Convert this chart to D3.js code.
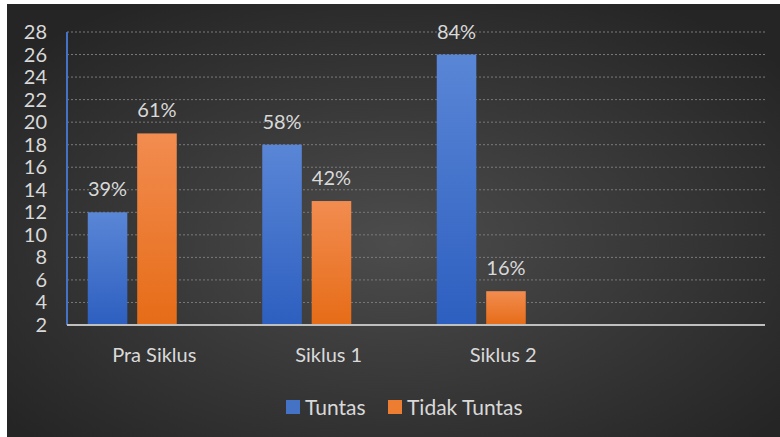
<!DOCTYPE html>
<html>
<head>
<meta charset="utf-8">
<script src="https://cdn.jsdelivr.net/npm/d3@7"></script>
<style>
  html, body { margin: 0; padding: 0; background: #fff; }
  svg text { font-family: Lato, "Open Sans", sans-serif; fill: #d9d9d9; }
</style>
</head>
<body>
<div id="chart"></div>
<script>
// data (31 students)
var categories = ["Pra Siklus", "Siklus 1", "Siklus 2", ""];
var seriesNames = ["Tuntas", "Tidak Tuntas"];
var tuntas = [12, 18, 26];
var tidakTuntas = [19, 13, 5];
var tuntasPct = ["39%", "58%", "84%"];
var tidakPct = ["61%", "42%", "16%"];
var yTicks = [2, 4, 6, 8, 10, 12, 14, 16, 18, 20, 22, 24, 26, 28];

var W = 780, H = 437;
var plot = {left: 67, right: 765, top: 32, bottom: 325};

var svg = d3.select("#chart").append("svg")
    .attr("width", W).attr("height", H);

var defs = svg.append("defs");
var bg = defs.append("radialGradient").attr("id", "bg")
    .attr("cx", "50%").attr("cy", "55%").attr("r", "65%");
bg.append("stop").attr("offset", "0%").attr("stop-color", "#4c4c4c");
bg.append("stop").attr("offset", "100%").attr("stop-color", "#252525");

var gBlue = defs.append("linearGradient").attr("id", "gBlue")
    .attr("x1", 0).attr("y1", 0).attr("x2", 0).attr("y2", 1);
gBlue.append("stop").attr("offset", "0%").attr("stop-color", "#5a86d6");
gBlue.append("stop").attr("offset", "100%").attr("stop-color", "#2d5fc0");
var gOrange = defs.append("linearGradient").attr("id", "gOrange")
    .attr("x1", 0).attr("y1", 0).attr("x2", 0).attr("y2", 1);
gOrange.append("stop").attr("offset", "0%").attr("stop-color", "#f28c50");
gOrange.append("stop").attr("offset", "100%").attr("stop-color", "#e66c17");

// white page edge at top/left, then the dark chart area
svg.append("rect").attr("x", 7).attr("y", 4).attr("width", W - 7).attr("height", H - 4)
    .attr("fill", "url(#bg)");

var x = d3.scaleBand().domain(categories).range([plot.left, plot.right]);
var xs = d3.scaleBand().domain(seriesNames).range([-22 - 44.5, -22 + 44.5]).paddingInner(0.2);
var y = d3.scaleLinear().domain([2, 28]).range([plot.bottom, plot.top]);

// gridlines
svg.append("g").selectAll("line")
    .data(yTicks.slice(1))
    .enter().append("line")
    .attr("x1", plot.left).attr("x2", plot.right)
    .attr("y1", function(d) { return y(d); })
    .attr("y2", function(d) { return y(d); })
    .attr("stroke", "#7a7a7a")
    .attr("stroke-width", 1)
    .attr("stroke-dasharray", "2,2");

// y tick labels
svg.append("g").selectAll("text")
    .data(yTicks)
    .enter().append("text")
    .attr("x", 47)
    .attr("y", function(d) { return y(d); })
    .attr("dy", "0.35em")
    .attr("text-anchor", "end")
    .style("font-size", "20px")
    .text(function(d) { return d; });

var rows = categories.slice(0, 3).map(function(c, i) {
    return { cat: c, vals: [
        { s: "Tuntas", v: tuntas[i], p: tuntasPct[i], fill: "url(#gBlue)" },
        { s: "Tidak Tuntas", v: tidakTuntas[i], p: tidakPct[i], fill: "url(#gOrange)" }
    ]};
});

var groups = svg.append("g").selectAll("g")
    .data(rows)
    .enter().append("g")
    .attr("transform", function(d) { return "translate(" + (x(d.cat) + x.bandwidth() / 2) + ",0)"; });

groups.selectAll("rect")
    .data(function(d) { return d.vals; })
    .enter().append("rect")
    .attr("x", function(d) { return xs(d.s); })
    .attr("width", xs.bandwidth())
    .attr("y", function(d) { return y(d.v); })
    .attr("height", function(d) { return y(2) - y(d.v); })
    .attr("fill", function(d) { return d.fill; });

groups.selectAll("text")
    .data(function(d) { return d.vals; })
    .enter().append("text")
    .attr("x", function(d) { return xs(d.s) + xs.bandwidth() / 2; })
    .attr("y", function(d) { return y(d.v) - 23; })
    .attr("dy", "0.35em")
    .attr("text-anchor", "middle")
    .style("font-size", "20px")
    .text(function(d) { return d.p; });

// axes lines
svg.append("line")
    .attr("x1", plot.left).attr("x2", plot.left).attr("y1", plot.top).attr("y2", plot.bottom)
    .attr("stroke", "#4472c4").attr("stroke-width", 2);
svg.append("line")
    .attr("x1", plot.left).attr("x2", plot.right).attr("y1", plot.bottom).attr("y2", plot.bottom)
    .attr("stroke", "#bfbfbf").attr("stroke-width", 2);

// category labels
svg.append("g").selectAll("text")
    .data(categories.slice(0, 3))
    .enter().append("text")
    .attr("x", function(d) { return x(d) + x.bandwidth() / 2; })
    .attr("y", 362)
    .attr("text-anchor", "middle")
    .style("font-size", "20px")
    .text(function(d) { return d; });

// legend
var legendColors = ["#4472c4", "#ed7d31"];
var legendX = [286, 388];
var lg = svg.append("g").selectAll("g")
    .data(seriesNames)
    .enter().append("g")
    .attr("transform", function(d, i) { return "translate(" + legendX[i] + ",400)"; });
lg.append("rect").attr("width", 14).attr("height", 14)
    .attr("fill", function(d, i) { return legendColors[i]; });
lg.append("text").attr("x", 19).attr("y", 15)
    .style("font-size", "21px")
    .text(function(d) { return d; });
</script>
</body>
</html>
